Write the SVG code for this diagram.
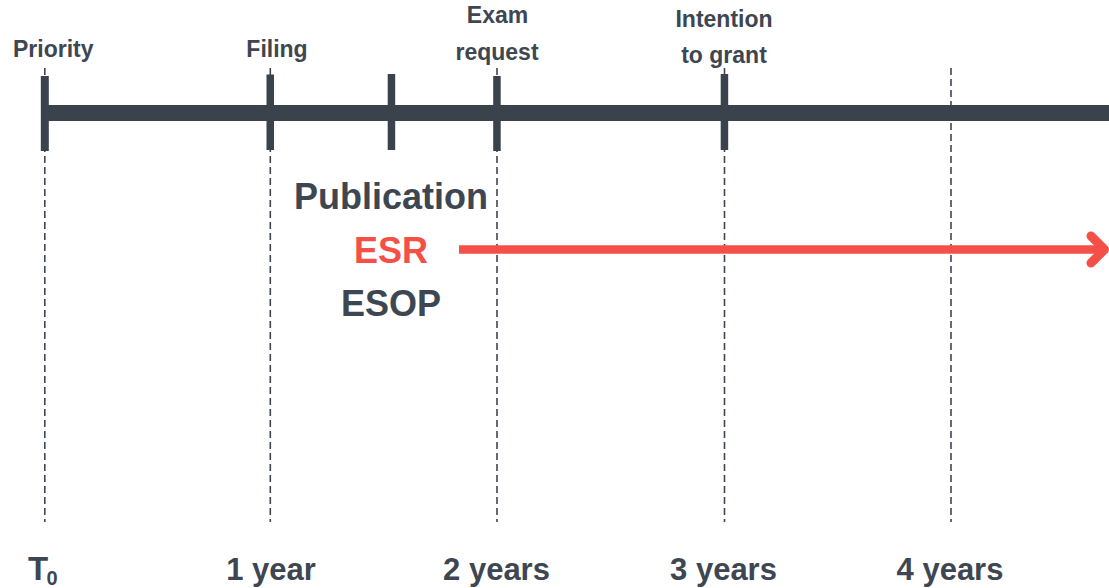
<svg xmlns="http://www.w3.org/2000/svg" width="1109" height="588" viewBox="0 0 1109 588">
  <style>
    .t { font-family: "Liberation Sans", Arial, sans-serif; font-weight: bold; fill: #3d4651; text-anchor: middle; }
    .top { font-size: 23px; }
    .big { font-size: 36px; }
    .bot { font-size: 31px; }
    .dash { stroke: #3d4651; stroke-width: 1.6; stroke-dasharray: 7 4; fill: none; }
    .tick { fill: #3a434c; }
  </style>
  <rect width="1109" height="588" fill="#ffffff"/>
  <g id="gridlines">
    <line class="dash" x1="44.8" y1="68" x2="44.8" y2="522"/>
    <line class="dash" x1="270.3" y1="68" x2="270.3" y2="522"/>
    <line class="dash" x1="497" y1="68" x2="497" y2="522"/>
    <line class="dash" x1="724.5" y1="68" x2="724.5" y2="522"/>
    <line class="dash" x1="951" y1="68" x2="951" y2="522"/>
  </g>
  <g id="timeline">
    <rect x="44" y="105" width="1065" height="16" fill="#3a434c"/>
  </g>
  <g id="priority">
    <rect class="tick" x="40.8" y="76" width="8" height="75"/>
    <text class="t top" x="53.3" y="57">Priority</text>
  </g>
  <g id="filing">
    <rect class="tick" x="266.5" y="74.5" width="7.5" height="75.5"/>
    <text class="t top" x="277" y="57">Filing</text>
  </g>
  <g id="publication">
    <rect class="tick" x="387.7" y="74" width="7.5" height="76"/>
    <text class="t big" x="391" y="209">Publication</text>
    <text class="t big" x="391" y="263" style="fill:#f55047">ESR</text>
    <text class="t big" x="391" y="316">ESOP</text>
  </g>
  <g id="exam">
    <rect class="tick" x="493.2" y="76" width="7.5" height="75"/>
    <text class="t top" x="497.5" y="23.3">Exam</text>
    <text class="t top" x="497" y="59.5">request</text>
  </g>
  <g id="intention">
    <rect class="tick" x="720.7" y="74" width="7.5" height="76"/>
    <text class="t top" x="724" y="27.3">Intention</text>
    <text class="t top" x="724" y="63.3">to grant</text>
  </g>
  <g id="connectors">
    <line x1="459" y1="249.5" x2="1103" y2="249.5" stroke="#f55047" stroke-width="8.5"/>
    <polyline points="1091,236 1104.5,249.5 1091,263" fill="none" stroke="#f55047" stroke-width="9" stroke-linecap="round" stroke-linejoin="round"/>
  </g>
  <g id="axis-labels">
    <text class="t" x="28" y="580" style="font-size:33px;text-anchor:start">T<tspan x="46.5" y="584.5" style="font-size:20px">0</tspan></text>
    <text class="t bot" x="271" y="579.5">1 year</text>
    <text class="t bot" x="496.5" y="579.5">2 years</text>
    <text class="t bot" x="723.5" y="579.5">3 years</text>
    <text class="t bot" x="950" y="579.5">4 years</text>
  </g>
</svg>
